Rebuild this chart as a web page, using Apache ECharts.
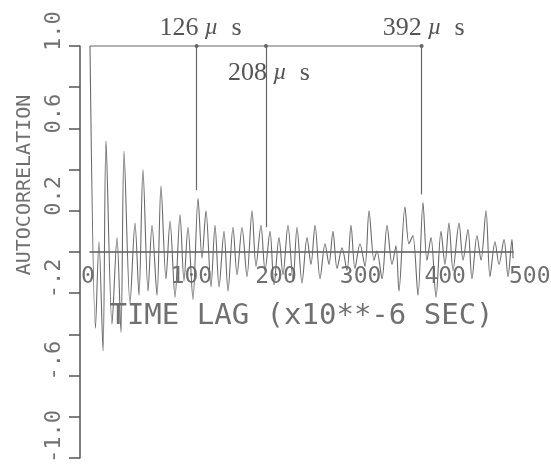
<!DOCTYPE html>
<html><head><meta charset="utf-8">
<script src="https://cdn.jsdelivr.net/npm/echarts@6/dist/echarts.min.js"></script>
<style>html,body{margin:0;padding:0;background:#fff}#c{width:551px;height:470px}</style>
</head><body><div id="c"></div>
<script>
// Lag (microseconds) of each sampled turning point, and the autocorrelation there
const lags = [0, 6.5, 10.6, 15.4, 18.9, 26.0, 31.9, 36.6, 40.2, 47.3, 53.2, 57.9, 62.6, 68.6, 73.3, 79.2, 83.9, 89.8, 94.6, 100.5,
  106.4, 111.1, 115.8, 121.7, 127.7, 132.4, 137.1, 143.0, 147.8, 152.5, 158.4, 163.1, 169.0, 173.8, 179.7, 185.6, 191.5, 196.2, 202.1, 206.9,
  212.8, 217.5, 223.4, 228.1, 234.0, 240.0, 244.7, 250.6, 256.5, 261.2, 266.0, 271.9, 277.8, 282.5, 287.2, 292.0, 297.9, 303.8, 308.5, 313.2,
  319.1, 325.1, 329.8, 335.7, 339.2, 345.2, 351.1, 357.0, 361.7, 365.2, 372.3, 377.0, 381.6, 387.7, 393.6, 398.3, 403.1, 409.0, 414.9, 419.6,
  424.3, 429.1, 436.2, 440.9, 446.8, 451.5, 457.4, 462.2, 468.1, 472.8, 478.7, 483.5, 489.4, 494.1, 498.8, 500];
const acf = [1.00, -0.37, 0.05, -0.48, 0.54, -0.35, 0.07, -0.39, 0.49, -0.25, 0.14, -0.21, 0.40, -0.19, 0.13, -0.21, 0.32, -0.13, 0.15, -0.22,
  0.18, -0.14, 0.12, -0.23, 0.26, -0.03, 0.20, -0.17, 0.13, -0.17, 0.10, -0.19, 0.12, -0.11, 0.12, -0.12, 0.20, -0.07, 0.13, -0.09,
  0.10, -0.16, 0.07, -0.11, 0.13, -0.14, 0.12, -0.15, 0.07, -0.06, 0.13, -0.13, 0.04, -0.06, 0.10, -0.08, 0.02, -0.09, 0.13, -0.08,
  0.04, -0.07, 0.20, -0.04, 0.005, -0.13, 0.13, -0.06, 0.03, -0.19, 0.22, 0.04, 0.08, -0.21, 0.24, -0.04, 0.07, -0.22, 0.10, -0.06,
  0.14, -0.09, 0.14, -0.04, 0.11, -0.13, 0.08, -0.04, 0.20, -0.12, 0.05, -0.06, 0.06, -0.12, 0.06, -0.03];
const xTickLabels = ['0', '100', '200', '300', '400', '500'];
const yTickValues = [1.0, 0.6, 0.2, -0.2, -0.6, -1.0];
const yTickLabels = ['1.0', '0.6', '0.2', '-.2', '-.6', '-1.0'];
const markerLags = [126, 208, 392];
const markerTexts = ['126', '208', '392'];
const markerEnds = [0.30, 0.12, 0.28];

const TXT = '#707070';
const LINE = '#666666';
const MONO = 'DejaVu Sans Mono';

const chart = echarts.init(document.getElementById('c'), null, {renderer: 'canvas'});

const bracketData = [{value: [0, 1], symbol: 'none', label: {show: false}}];
const labelPos = [
  {position: 'top', distance: 3, offset: [4, 0]},
  {position: 'bottom', distance: 12, offset: [3, 0]},
  {position: 'top', distance: 3, offset: [2, 0]}
];
markerLags.forEach((l, i) => {
  bracketData.push({value: [l, 1], label: Object.assign({show: true,
    formatter: '{n|' + markerTexts[i] + '}{u| \u00b5}{s|  s}'}, labelPos[i])});
});

chart.setOption({
  animation: false,
  backgroundColor: '#ffffff',
  grid: [
    {left: 90, right: 38, top: 46, height: 412, containLabel: false, outerBoundsMode: 'none'},
    // upper half of the plot: its bottom edge is the zero line, where the time axis is drawn
    {left: 90, right: 38, top: 46, height: 206, containLabel: false, outerBoundsMode: 'none'}
  ],
  xAxis: [
    {gridIndex: 0, type: 'value', min: 0, max: 500, interval: 100, show: false},
    {
      gridIndex: 1, type: 'value', min: 0, max: 500, interval: 100, position: 'bottom',
      axisLine: {show: true, onZero: false, lineStyle: {color: '#555', width: 1.5}},
      axisTick: {show: false},
      splitLine: {show: false},
      axisLabel: {
        color: TXT, fontFamily: MONO, fontSize: 23, margin: 14, padding: [0, 0, 0, -4],
        align: 'left', alignMinLabel: 'center', verticalAlign: 'top',
        showMinLabel: true, showMaxLabel: true, hideOverlap: false,
        formatter: v => xTickLabels[Math.round(v / 100)] || ''
      },
      name: 'TIME LAG (x10**-6 SEC)', nameLocation: 'middle', nameGap: 50,
      nameTextStyle: {color: TXT, fontFamily: MONO, fontSize: 29}
    }
  ],
  yAxis: [
    {
      gridIndex: 0, type: 'value', min: -1, max: 1, interval: 0.2, offset: 10,
      axisLine: {show: true, onZero: false, lineStyle: {color: '#555', width: 1.5}},
      axisTick: {show: true, length: 11, inside: false, lineStyle: {color: '#555', width: 1.5}},
      splitLine: {show: false},
      axisLabel: {
        rotate: 90, align: 'left', verticalAlign: 'bottom', margin: 15, padding: [0, 0, 0, -5],
        color: TXT, fontFamily: MONO, fontSize: 22, hideOverlap: false,
        showMinLabel: true, showMaxLabel: true,
        formatter: v => {
          const i = yTickValues.findIndex(t => Math.abs(t - v) < 1e-6);
          return i >= 0 ? yTickLabels[i] : '';
        }
      },
      name: 'AUTOCORRELATION', nameLocation: 'middle', nameRotate: 90, nameGap: 44,
      nameTextStyle: {color: TXT, fontFamily: MONO, fontSize: 20, padding: [0, 0, 0, 134]}
    },
    {gridIndex: 1, type: 'value', min: 0, max: 1, show: false}
  ],
  series: [
    {
      type: 'line', xAxisIndex: 0, yAxisIndex: 0, data: lags.map((l, i) => [l, acf[i]]),
      showSymbol: false, smooth: 0.3, clip: false, z: 2,
      lineStyle: {color: '#6a6a6a', width: 1.1}
    },
    {
      type: 'line', xAxisIndex: 0, yAxisIndex: 0, data: bracketData, z: 3, clip: false,
      symbol: 'circle', symbolSize: 4,
      itemStyle: {color: LINE},
      lineStyle: {color: LINE, width: 1.2},
      label: {
        color: '#555',
        rich: {
          n: {fontFamily: 'Liberation Serif', fontSize: 26, color: '#555'},
          u: {fontFamily: 'Liberation Serif', fontSize: 24, fontStyle: 'italic', color: '#555'},
          s: {fontFamily: 'Liberation Serif', fontSize: 26, color: '#555'}
        }
      },
      markLine: {
        silent: true, symbol: 'none',
        lineStyle: {color: LINE, width: 1.2, type: 'solid'},
        label: {show: false},
        data: markerLags.map((l, i) => [{coord: [l, 1]}, {coord: [l, markerEnds[i]]}])
      }
    }
  ]
});
</script>
</body></html>
